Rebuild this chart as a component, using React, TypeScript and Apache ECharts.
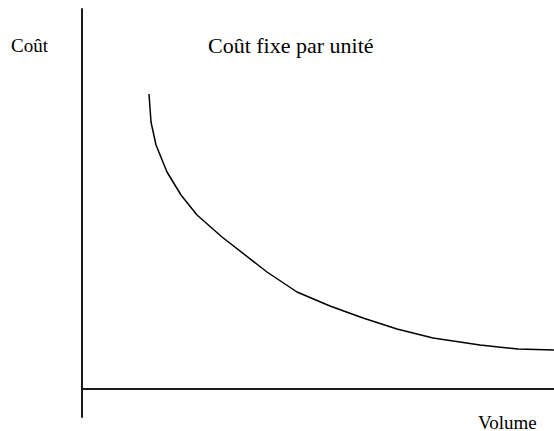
import React, { useEffect, useRef } from "react";
import * as echarts from "echarts";

const volume = [67, 69, 74, 85, 99, 115, 140, 185, 215, 248, 281, 315, 351, 398, 436, 472];
const cost = [295, 267, 244, 217, 194, 174, 152, 117, 97, 83, 71, 60, 51, 44, 40, 39];
const titleText = "Coût fixe par unité";
const yName = "Coût";
const xName = "Volume";

export default function App() {
  const ref = useRef<HTMLDivElement>(null);
  useEffect(() => {
    if (!ref.current) return;
    const chart = echarts.init(ref.current, null, { renderer: "svg" });
    const font = "Liberation Serif";
    chart.setOption({
      animation: false,
      backgroundColor: "#ffffff",
      title: {
        text: titleText,
        left: 208,
        top: 34,
        padding: 0,
        textStyle: { fontFamily: font, fontSize: 22, fontWeight: "normal", color: "#000", lineHeight: 22 },
      },
      grid: { left: 82, right: 0, top: 9, bottom: 14 },
      xAxis: {
        type: "value",
        min: 0,
        max: 472,
        axisLine: { show: true, onZero: true, lineStyle: { color: "#1a1a1a", width: 2 } },
        axisTick: { show: false },
        axisLabel: { show: false },
        splitLine: { show: false },
      },
      yAxis: {
        type: "value",
        min: -28,
        max: 380,
        axisLine: { show: true, onZero: false, lineStyle: { color: "#1a1a1a", width: 2 } },
        axisTick: { show: false },
        axisLabel: { show: false },
        splitLine: { show: false },
      },
      graphic: [
        {
          type: "text",
          x: 11,
          y: 45,
          style: {
            text: yName,
            fontFamily: font,
            fontSize: 19,
            fill: "#000",
            align: "left",
            verticalAlign: "middle",
          },
        },
        {
          type: "text",
          x: 478,
          y: 422,
          style: {
            text: xName,
            fontFamily: font,
            fontSize: 19,
            fill: "#000",
            align: "left",
            verticalAlign: "middle",
          },
        },
      ],
      series: [
        {
          type: "line",
          data: volume.map((v, i) => [v, cost[i]]),
          showSymbol: false,
          smooth: false,
          lineStyle: { color: "#000", width: 1.5 },
        },
      ],
    });
    return () => chart.dispose();
  }, []);
  return <div ref={ref} style={{ width: 554, height: 431, position: "absolute", left: 0, top: 0 }} />;
}
